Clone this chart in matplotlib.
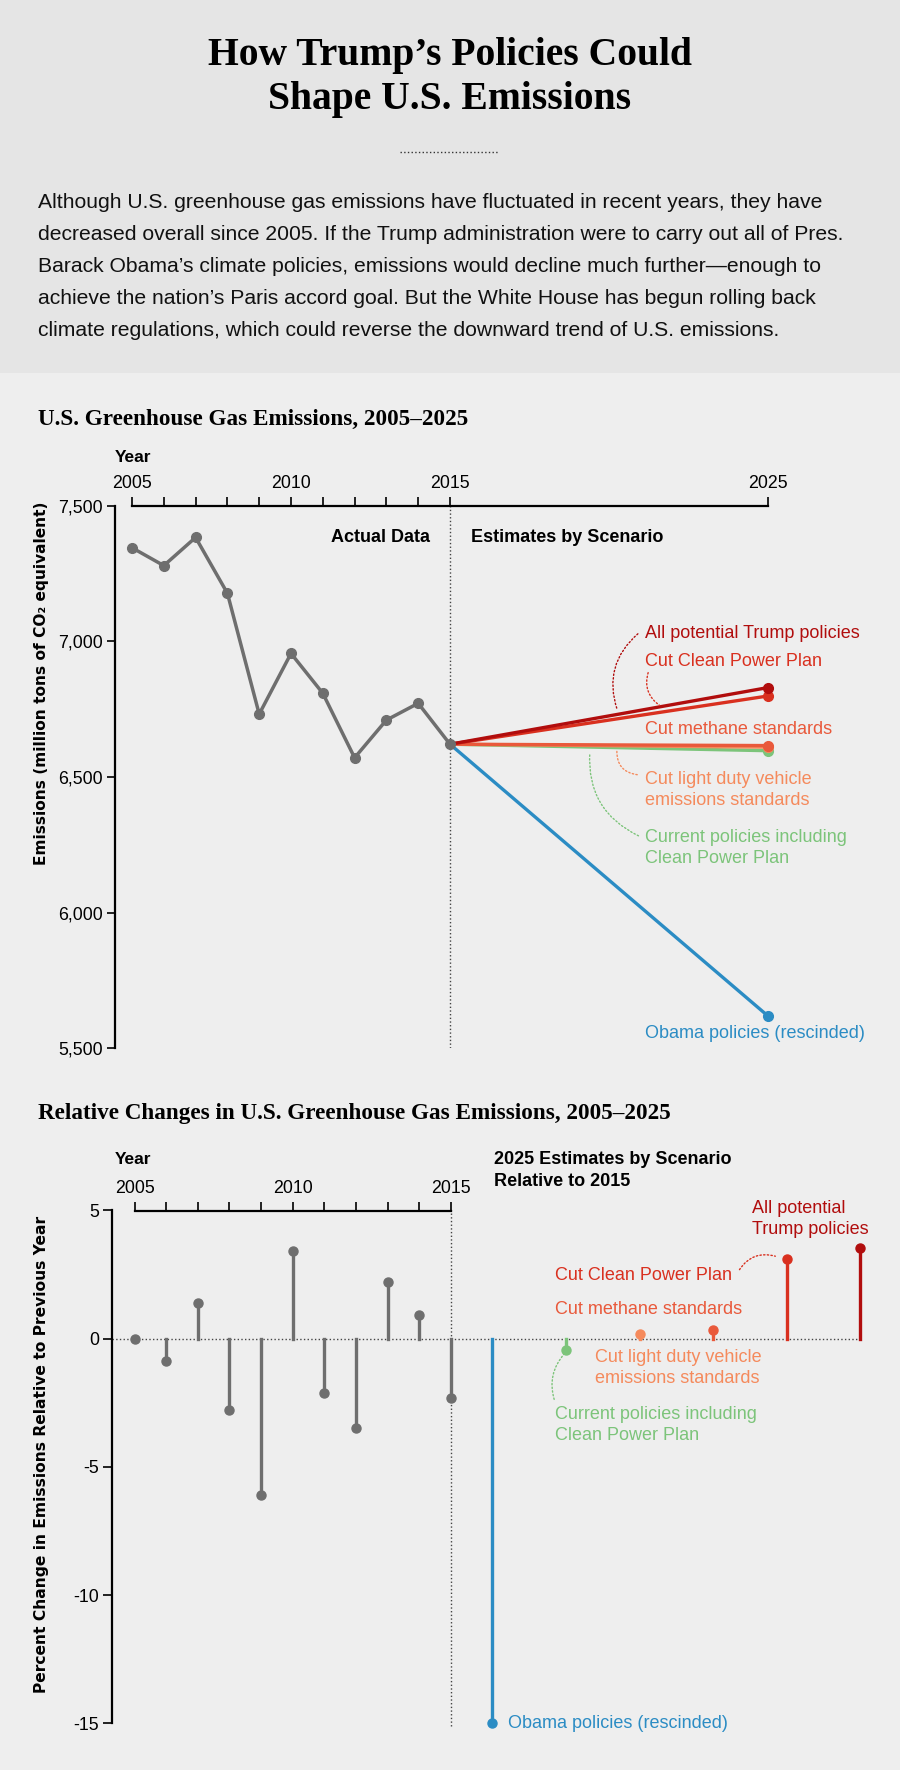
import matplotlib
matplotlib.use('Agg')
import matplotlib.pyplot as plt
from matplotlib.patches import Rectangle, FancyArrowPatch
from matplotlib.ticker import FixedLocator

plt.rcParams['font.family'] = ['Liberation Sans', 'DejaVu Sans']

# ---- data ----
years = [2005, 2006, 2007, 2008, 2009, 2010, 2011, 2012, 2013, 2014, 2015]
actual = [7346, 7280, 7384, 7178, 6732, 6956, 6809, 6571, 6710, 6772, 6621]
yearly_change = [0.0, -0.87, 1.39, -2.77, -6.1, 3.41, -2.12, -3.48, 2.22, 0.91, -2.31]

scenario_names = ['All potential Trump policies', 'Cut Clean Power Plan',
                  'Cut methane standards',
                  'Cut light duty vehicle\nemissions standards',
                  'Current policies including\nClean Power Plan',
                  'Obama policies (rescinded)']
scenario_2025 = [6830, 6799, 6616, 6610, 6597, 5618]
scenario_change = [3.53, 3.12, 0.32, 0.19, -0.46, -15.0]
scenario_colors = ['#b10d0d', '#d9301f', '#e9593b', '#f58a5c', '#7cc47a', '#2b8cc4']

grey = '#6e6e6e'
W, H = 900, 1770


def fx(px):
    return px / W


def fy(py):
    return 1 - py / H


def fp(px, py):
    # figure pixel coords, measured from top-left
    return (px, H - py)


def dotted_link(start, end, rad, col):
    fig.add_artist(FancyArrowPatch(fp(*start), fp(*end), transform=None, arrowstyle='-',
                                   connectionstyle='arc3,rad=%s' % rad, linestyle=':',
                                   color=col, lw=1))


fig = plt.figure(figsize=(9, 17.7), dpi=100, facecolor='#eeeeee')
fig.patches.append(Rectangle((0, fy(373)), 1, 373 / H, transform=fig.transFigure,
                             facecolor='#e5e5e5', edgecolor='none', zorder=0))

# ---- header ----
serif = 'Liberation Serif'
label_font = 'DejaVu Sans'
fig.text(0.5, fy(65), 'How Trump\u2019s Policies Could', ha='center', va='baseline',
         family=serif, weight='bold', fontsize=28.5)
fig.text(0.5, fy(109), 'Shape U.S. Emissions', ha='center', va='baseline',
         family=serif, weight='bold', fontsize=28.5)
fig.lines.append(plt.Line2D([fx(400), fx(499)], [fy(152), fy(152)], transform=fig.transFigure,
                            color='#333333', lw=1, ls=':'))

para = ['Although U.S. greenhouse gas emissions have fluctuated in recent years, they have',
        'decreased overall since 2005. If the Trump administration were to carry out all of Pres.',
        'Barack Obama\u2019s climate policies, emissions would decline much further\u2014enough to',
        'achieve the nation\u2019s Paris accord goal. But the White House has begun rolling back',
        'climate regulations, which could reverse the downward trend of U.S. emissions.']
for i, line in enumerate(para):
    fig.text(fx(38.5), fy(207.7 + 32 * i), line, ha='left', va='baseline',
             fontsize=15.2, color='#111111')

fig.text(fx(38.5), fy(419), 'U.S. Greenhouse Gas Emissions, 2005\u20132025', ha='left',
         va='center', family=serif, weight='bold', fontsize=16.7)
fig.text(fx(38.5), fy(1113), 'Relative Changes in U.S. Greenhouse Gas Emissions, 2005\u20132025',
         ha='left', va='center', family=serif, weight='bold', fontsize=16.7)

# ---- top chart ----
ppy = 31.8
ax1 = fig.add_axes([fx(115), fy(1048), (840 - 115) / W, (1048 - 506) / H])
ax1.set_facecolor('none')
ax1.set_xlim(2005 - (132 - 115) / ppy, 2005 + (840 - 132) / ppy)
ax1.set_ylim(5500, 7500)
for s in ['right', 'bottom']:
    ax1.spines[s].set_visible(False)
ax1.spines['left'].set_bounds(5500, 7500)
ax1.spines['top'].set_bounds(2005, 2025)
for s in ['left', 'top']:
    ax1.spines[s].set_linewidth(1.6)
ax1.xaxis.tick_top()
ax1.xaxis.set_major_locator(FixedLocator([2005, 2010, 2015, 2025]))
ax1.xaxis.set_minor_locator(FixedLocator([y for y in years if y % 5]))
ax1.tick_params(axis='x', which='both', direction='out', length=6.8, width=1.2,
                pad=3, labelsize=12.8)
ax1.set_yticks([5500, 6000, 6500, 7000, 7500])
ax1.set_yticklabels(['5,500', '6,000', '6,500', '7,000', '7,500'])
ax1.tick_params(axis='y', direction='out', length=6, width=1.2, pad=3, labelsize=12.8)

ax1.plot([2015, 2015], [5500, 7500], ls=':', color='#444444', lw=1)

for name, val, col in reversed(list(zip(scenario_names, scenario_2025, scenario_colors))):
    ax1.plot([2015, 2025], [actual[-1], val], color=col, lw=2.4, marker='o', ms=7,
             markevery=[1], clip_on=False, solid_capstyle='round')
ax1.plot(years, actual, color=grey, lw=2.5, marker='o', ms=7, clip_on=False, zorder=5)

fig.text(fx(115), fy(458), 'Year', ha='left', va='center', weight='bold', fontsize=12.5)
fig.text(fx(430), fy(537), 'Actual Data', ha='right', va='center', weight='bold', fontsize=13)
fig.text(fx(471), fy(537), 'Estimates by Scenario', ha='left', va='center', weight='bold',
         fontsize=13)
fig.text(fx(42), fy(683), 'Emissions (million tons of CO\u2082 equivalent)', rotation=90,
         ha='center', va='center', family=label_font, weight='bold', fontsize=11.1)

top_label_y = [633, 662, 730, 790, 848, 1034]
for name, col, ly in zip(scenario_names, scenario_colors, top_label_y):
    fig.text(fx(645), fy(ly), name, ha='left', va='center', color=col, fontsize=13,
             linespacing=1.25)

dotted_link((640, 632), (618, 712), 0.35, scenario_colors[0])
dotted_link((649, 670), (662, 707), 0.4, scenario_colors[1])
dotted_link((640, 775), (617, 748), -0.5, scenario_colors[3])
dotted_link((641, 837), (590, 750), -0.35, scenario_colors[4])

# ---- bottom chart ----
ppy2 = 31.65
ax2 = fig.add_axes([fx(112), fy(1723.3), (880 - 112) / W, (1723.3 - 1210.5) / H])
ax2.set_facecolor('none')
x_lo = 2005 - (134.5 - 112) / ppy2
ax2.set_xlim(x_lo, 2005 + (880 - 134.5) / ppy2)
ax2.set_ylim(-15, 5)
for s in ['right', 'bottom']:
    ax2.spines[s].set_visible(False)
ax2.spines['left'].set_bounds(-15, 5)
ax2.spines['top'].set_bounds(2005, 2015)
for s in ['left', 'top']:
    ax2.spines[s].set_linewidth(1.6)
ax2.xaxis.tick_top()
ax2.xaxis.set_major_locator(FixedLocator([2005, 2010, 2015]))
ax2.xaxis.set_minor_locator(FixedLocator([y for y in years if y % 5]))
ax2.tick_params(axis='x', which='both', direction='out', length=6.8, width=1.2,
                pad=3, labelsize=12.8)
ax2.set_yticks([5, 0, -5, -10, -15])
ax2.set_yticklabels(['5', '0', '-5', '-10', '-15'])
ax2.tick_params(axis='y', direction='out', length=6.5, width=1.2, pad=3, labelsize=12.8)

scen_x = [2015 + 1.31 + 2.325 * i for i in range(len(scenario_names))][::-1]
ax2.plot([x_lo, max(scen_x)], [0, 0], ls=':', color='#444444', lw=1, zorder=1)
ax2.plot([2015, 2015], [-15.1, 5], ls=':', color='#444444', lw=1, clip_on=False)

for yr, v in zip(years, yearly_change):
    ax2.plot([yr, yr], [0, v], color=grey, lw=2.4, zorder=3)
    ax2.plot([yr], [v], 'o', color=grey, ms=6.5, zorder=4)
for xp, v, col in zip(scen_x, scenario_change, scenario_colors):
    ax2.plot([xp, xp], [0, v], color=col, lw=2.4, zorder=3)
    ax2.plot([xp], [v], 'o', color=col, ms=6.5, zorder=4, clip_on=False)

fig.text(fx(115), fy(1160), 'Year', ha='left', va='center', weight='bold', fontsize=12.5)
fig.text(fx(494), fy(1160), '2025 Estimates by Scenario', ha='left', va='center',
         weight='bold', fontsize=13)
fig.text(fx(494), fy(1181), 'Relative to 2015', ha='left', va='center', weight='bold',
         fontsize=13)
fig.text(fx(41.5), fy(1454), 'Percent Change in Emissions Relative to Previous Year',
         rotation=90, ha='center', va='center', family=label_font, weight='bold',
         fontsize=11.2)

bottom_labels = ['All potential\nTrump policies'] + scenario_names[1:]
bottom_pos = [(752, 1219), (555, 1275), (555, 1309), (595, 1368), (555, 1425), (508, 1723)]
for name, col, (lx, ly) in zip(bottom_labels, scenario_colors, bottom_pos):
    fig.text(fx(lx), fy(ly), name, ha='left', va='center', color=col, fontsize=13,
             linespacing=1.25)

dotted_link((738, 1272), (778, 1257), -0.4, scenario_colors[1])
dotted_link((555, 1402), (566, 1352), -0.3, scenario_colors[4])

fig.savefig('out.png', dpi=100, facecolor=fig.get_facecolor())
